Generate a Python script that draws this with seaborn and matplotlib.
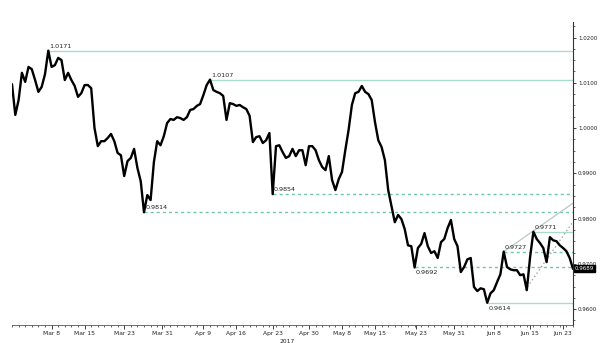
import matplotlib
matplotlib.use("Agg")
import matplotlib.pyplot as plt
import matplotlib.ticker as mticker
import seaborn as sns
import pandas as pd

# EUR/CHF-like price series, half-trading-day samples (Feb 28 - Jun 27, 2017)
price = [
    1.0097, 1.0029, 1.0062, 1.0122, 1.0102, 1.0135, 1.0130, 1.0106, 1.0080, 1.0091,
    1.0119, 1.0171, 1.0135, 1.0139, 1.0155, 1.0150, 1.0106, 1.0122, 1.0106, 1.0093,
    1.0069, 1.0077, 1.0095, 1.0095, 1.0088, 1.0000, 0.9960, 0.9971, 0.9971, 0.9978,
    0.9987, 0.9971, 0.9945, 0.9940, 0.9894, 0.9927, 0.9934, 0.9954, 0.9912, 0.9883,
    0.9814, 0.9852, 0.9841, 0.9925, 0.9971, 0.9962, 0.9982, 1.0011, 1.0020, 1.0018,
    1.0024, 1.0022, 1.0018, 1.0024, 1.0040, 1.0042, 1.0049, 1.0053, 1.0073, 1.0095,
    1.0107, 1.0084, 1.0080, 1.0077, 1.0071, 1.0018, 1.0055, 1.0053, 1.0049, 1.0051,
    1.0046, 1.0042, 1.0027, 0.9969, 0.9980, 0.9982, 0.9967, 0.9973, 0.9989, 0.9854,
    0.9960, 0.9962, 0.9947, 0.9934, 0.9938, 0.9954, 0.9938, 0.9951, 0.9951, 0.9918,
    0.9960, 0.9960, 0.9951, 0.9929, 0.9914, 0.9907, 0.9938, 0.9885, 0.9863, 0.9887,
    0.9903, 0.9951, 0.9996, 1.0051, 1.0077, 1.0080, 1.0093, 1.0080, 1.0075, 1.0062,
    1.0013, 0.9973, 0.9958, 0.9929, 0.9863, 0.9828, 0.9792, 0.9808, 0.9799, 0.9777,
    0.9741, 0.9739, 0.9692, 0.9735, 0.9744, 0.9768, 0.9739, 0.9724, 0.9728, 0.9713,
    0.9748, 0.9755, 0.9779, 0.9797, 0.9755, 0.9739, 0.9682, 0.9693, 0.9710, 0.9713,
    0.9649, 0.9640, 0.9646, 0.9644, 0.9614, 0.9635, 0.9642, 0.9660, 0.9677, 0.9727,
    0.9693, 0.9688, 0.9686, 0.9686, 0.9675, 0.9677, 0.9642, 0.9715, 0.9771, 0.9755,
    0.9746, 0.9735, 0.9704, 0.9759, 0.9752, 0.9750, 0.9741, 0.9735, 0.9728, 0.9713,
    0.9689,
]

# date axis labels and the bar index where each sits
tick_labels = ["Mar 8", "Mar 15", "Mar 23", "Mar 31", "Apr 9", "Apr 16", "Apr 23",
               "Apr 30", "May 8", "May 15", "May 23", "May 31", "Jun 8", "Jun 15", "Jun 23"]
tick_bars = [12, 22, 34, 45.5, 58, 68, 79, 90, 100, 110, 122.5, 134, 146, 157, 167]

# support / resistance levels, the bar where each starts, and where its label goes
levels = [1.0171, 1.0107, 0.9854, 0.9814, 0.9692, 0.9614, 0.9727, 0.9771]
level_start = [11, 60, 79, 40, 122, 144, 149, 158]
level_kind = ["solid", "solid", "dashed", "dashed", "dashed", "solid", "dashed", "solid"]
label_side = ["above", "above", "above", "above", "below", "below", "above", "above"]

# trend lines: (start bar, start price) -> (end bar, end price)
trend_solid = ([149, 170], [0.9727, 0.9834])
trend_dotted = ([155.5, 169.7], [0.9642, 0.9790])

last_price = 0.9689

sns.set_style("white")
plt.rcParams["font.family"] = ["DejaVu Sans"]

fig = plt.figure(figsize=(6.0, 3.43), dpi=100)
ax = fig.add_axes([0.02, 0.0525, 0.935, 0.883])

df = pd.DataFrame({"bar": range(len(price)), "price": price})

solid_col = "#aadccb"
dash_col = "#72c7a8"
xmax = len(price) - 1

for lv, st, kind, side in zip(levels, level_start, level_kind, label_side):
    if kind == "solid":
        ax.hlines(lv, st, xmax, colors=solid_col, lw=1.0, zorder=1)
    else:
        ax.hlines(lv, st, xmax, colors=dash_col, lw=1.0, linestyles=(0, (2.2, 2.2)), zorder=1)
    off = 1.5 if side == "above" else -2
    ax.annotate(f"{lv:.4f}", xy=(st, lv), xytext=(1, off), textcoords="offset points",
                ha="left", va="bottom" if side == "above" else "top",
                fontsize=4.6, color="#222222", zorder=5)

ax.plot(trend_solid[0], trend_solid[1], color="#b8c9c2", lw=0.9, zorder=1)
ax.plot(trend_dotted[0], trend_dotted[1], color="#a0a0a0", lw=0.9,
        linestyle=(0, (1.2, 2)), zorder=1)

sns.lineplot(data=df, x="bar", y="price", ax=ax, color="black", lw=1.7, zorder=3)

ax.set_xlim(0, xmax)
ax.set_ylim(0.9565, 1.0234)

# right axis
ax.yaxis.tick_right()
ax.yaxis.set_major_locator(mticker.MultipleLocator(0.01))
ax.yaxis.set_minor_locator(mticker.MultipleLocator(0.0025))
ax.yaxis.set_major_formatter(mticker.FormatStrFormatter("%.4f"))
ax.tick_params(axis="y", which="major", length=2.5, width=0.6, labelsize=4.0,
               pad=1.0, colors="#222222", right=True, left=False)
ax.tick_params(axis="y", which="minor", length=1.5, width=0.5, right=True, left=False)

# bottom axis
ax.set_xticks(tick_bars)
ax.set_xticklabels(tick_labels)
ax.xaxis.set_minor_locator(mticker.MultipleLocator(2))
ax.tick_params(axis="x", which="major", length=3, width=0.6, labelsize=4.3,
               pad=1.5, colors="#222222", bottom=True)
ax.tick_params(axis="x", which="minor", length=1.5, width=0.5, bottom=True)
ax.set_xlabel("")
ax.set_ylabel("")
ax.text(0.49, -0.045, "2017", transform=ax.transAxes, fontsize=4.3,
        color="#222222", ha="center", va="top")

for s in ["top", "left"]:
    ax.spines[s].set_visible(False)
ax.spines["right"].set_color("#333333")
ax.spines["right"].set_linewidth(0.8)
ax.spines["bottom"].set_color("#555555")
ax.spines["bottom"].set_linewidth(0.6)

# current price tag
ax.annotate(f"{last_price:.4f}", xy=(1.0, last_price), xycoords=("axes fraction", "data"),
            xytext=(1.5, 0), textcoords="offset points", ha="left", va="center",
            fontsize=4.0, color="white",
            bbox=dict(boxstyle="square,pad=0.2", fc="black", ec="black"), zorder=6)

fig.savefig("out.png", dpi=100)
